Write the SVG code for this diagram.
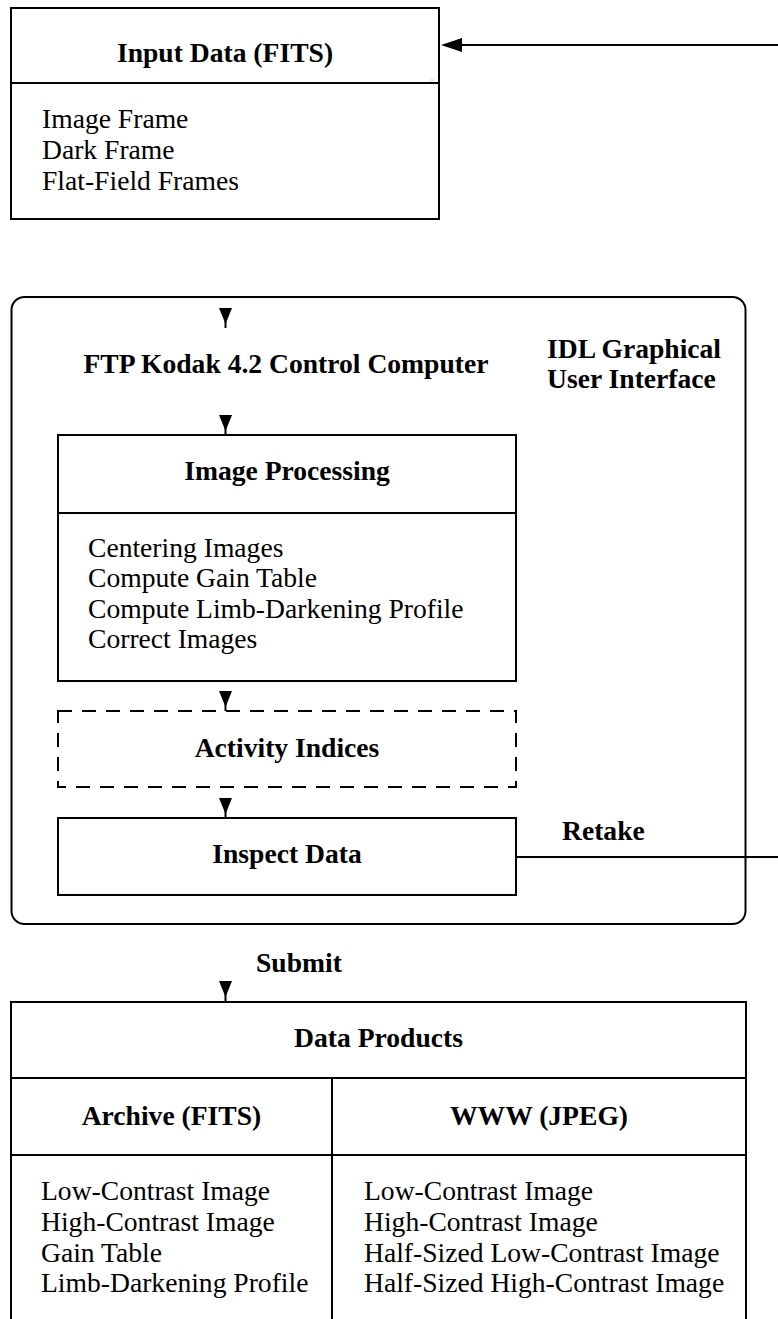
<svg xmlns="http://www.w3.org/2000/svg" width="778" height="1319" viewBox="0 0 778 1319">
<style>
.box{fill:none;stroke:#000;stroke-width:2}
.dash{fill:none;stroke:#000;stroke-width:2;stroke-dasharray:14 10}
.ln{fill:none;stroke:#000;stroke-width:2}
.t{font-family:"Liberation Serif","Times New Roman",serif;font-size:27.6px;fill:#000}
.b{font-family:"Liberation Serif","Times New Roman",serif;font-size:27.6px;font-weight:bold;fill:#000}
.c{text-anchor:middle}
.ah{fill:#000;stroke:none}
</style>
<defs>
<g id="down">
<polygon class="ah" points="-6.5,0 6.5,0 0,16"/>
<line x1="0" y1="12" x2="0" y2="20" stroke="#000" stroke-width="2"/>
</g>
</defs>
<rect width="778" height="1319" fill="#fff"/>

<g id="input-data">
<rect class="box" x="11" y="8" width="428" height="211"/>
<line class="ln" x1="11" y1="83" x2="439" y2="83"/>
<rect x="431.5" y="79.5" width="1" height="1" fill="#666"/>
<text class="b c" x="225" y="62">Input Data (FITS)</text>
<text class="t" x="42" y="128">Image Frame</text>
<text class="t" x="42" y="159">Dark Frame</text>
<text class="t" x="42" y="190">Flat-Field Frames</text>
</g>

<g id="idl-gui">
<rect class="box" x="11.5" y="297" width="734" height="627" rx="13" ry="13"/>
<text class="b c" x="286" y="373">FTP Kodak 4.2 Control Computer</text>
<text class="b" x="547" y="358">IDL Graphical</text>
<text class="b" x="547" y="388">User Interface</text>
</g>

<g id="image-processing">
<rect class="box" x="58" y="435" width="458" height="246"/>
<line class="ln" x1="58" y1="513" x2="516" y2="513"/>
<text class="b c" x="287" y="480">Image Processing</text>
<text class="t" x="88" y="556.5">Centering Images</text>
<text class="t" x="88" y="587">Compute Gain Table</text>
<text class="t" x="88" y="617.5">Compute Limb-Darkening Profile</text>
<text class="t" x="88" y="648">Correct Images</text>
</g>

<g id="activity-indices">
<rect class="dash" x="58" y="711" width="458" height="76"/>
<text class="b c" x="287" y="757">Activity Indices</text>
</g>

<g id="inspect-data">
<rect class="box" x="58" y="818" width="458" height="77"/>
<text class="b c" x="287" y="863">Inspect Data</text>
</g>

<g id="data-products">
<rect class="box" x="11" y="1002" width="735" height="340"/>
<line class="ln" x1="11" y1="1078" x2="746" y2="1078"/>
<line class="ln" x1="11" y1="1155" x2="746" y2="1155"/>
<line class="ln" x1="332" y1="1078" x2="332" y2="1342"/>
<text class="b c" x="378.5" y="1047">Data Products</text>
<text class="b c" x="171.5" y="1125">Archive (FITS)</text>
<text class="b c" x="539" y="1125">WWW (JPEG)</text>
<text class="t" x="41" y="1200">Low-Contrast Image</text>
<text class="t" x="41" y="1231">High-Contrast Image</text>
<text class="t" x="41" y="1261.5">Gain Table</text>
<text class="t" x="41" y="1292">Limb-Darkening Profile</text>
<text class="t" x="364" y="1200">Low-Contrast Image</text>
<text class="t" x="364" y="1231">High-Contrast Image</text>
<text class="t" x="364" y="1261.5">Half-Sized Low-Contrast Image</text>
<text class="t" x="364" y="1292">Half-Sized High-Contrast Image</text>
</g>

<g id="connectors">
<line class="ln" x1="778" y1="45" x2="458" y2="45"/>
<polygon class="ah" points="441,45 462,38 462,52"/>
<use href="#down" x="225.5" y="308"/>
<use href="#down" x="225.5" y="415"/>
<use href="#down" x="225.5" y="691"/>
<use href="#down" x="225.5" y="798"/>
<use href="#down" x="225.5" y="981"/>
<line class="ln" x1="516" y1="857" x2="778" y2="857"/>
<text class="b" x="562" y="840">Retake</text>
<text class="b" x="256" y="972">Submit</text>
</g>
</svg>
